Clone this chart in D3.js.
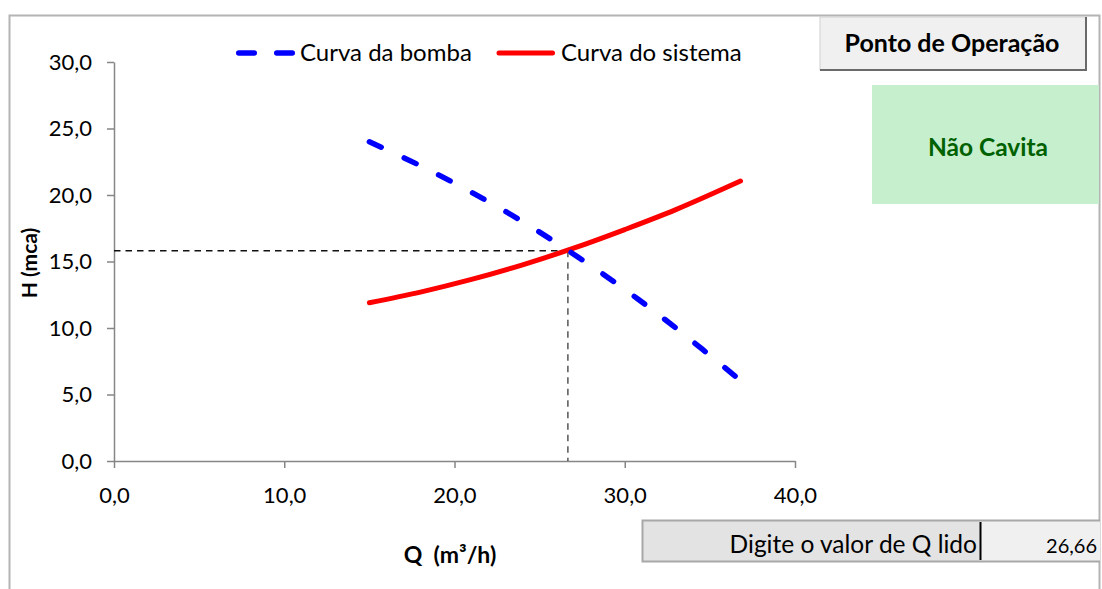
<!DOCTYPE html>
<html>
<head>
<meta charset="utf-8">
<script src="https://cdn.jsdelivr.net/npm/d3@7"></script>
<style>
  html, body { margin: 0; padding: 0; background: #fff; }
  svg { display: block; font-family: Lato, "Open Sans", sans-serif; }
</style>
</head>
<body>
<svg id="chart" width="1102" height="589"></svg>
<script>
// Pump curve (bomba) and system curve (sistema): flow Q (m³/h) vs head H (mca)
const pumpQ = [15, 18, 21, 24, 27, 30, 33, 36.66];
const pumpH = [24.0, 22.2, 20.2, 18.0, 15.55, 12.9, 10.0, 6.2];
const systemQ = [15, 18, 21, 24, 27, 30, 33, 36.8];
const systemH = [11.9, 12.7, 13.65, 14.75, 16.0, 17.4, 18.9, 21.05];

// Operating point (intersection of the two curves)
const opQ = 26.66;
const opH = 15.8;

const xTicks = [0, 10, 20, 30, 40];
const yTicks = [0, 5, 10, 15, 20, 25, 30];
const seriesNames = ["Curva da bomba", "Curva do sistema"];
const statusText = "Não Cavita";
const buttonText = "Ponto de Operação";
const inputLabel = "Digite o valor de Q lido";

const fmt = d => d.toFixed(1).replace(".", ",");
const fmt2 = d => d.toFixed(2).replace(".", ",");

const svg = d3.select("#chart");

// outer frame of the sheet area
svg.append("path")
  .attr("d", "M9.5,600 L9.5,15.5 L1099.5,15.5 L1099.5,600")
  .attr("fill", "none")
  .attr("stroke", "#b4b4b4")
  .attr("stroke-width", 2);

const x = d3.scaleLinear().domain([0, 40]).range([114, 795]);
const y = d3.scaleLinear().domain([0, 30]).range([461, 62]);

const axisColor = "#868686";

// y axis
const gy = svg.append("g")
  .attr("transform", `translate(${x(0)},0)`)
  .call(d3.axisLeft(y).tickValues(yTicks).tickFormat(fmt).tickSize(7).tickSizeOuter(0).tickPadding(15));
// x axis
const gx = svg.append("g")
  .attr("transform", `translate(0,${y(0)})`)
  .call(d3.axisBottom(x).tickValues(xTicks).tickFormat(fmt).tickSize(7).tickSizeOuter(0).tickPadding(19));

[gx, gy].forEach(g => {
  g.select(".domain").attr("stroke", axisColor).attr("stroke-width", 1.5);
  g.selectAll(".tick line").attr("stroke", axisColor).attr("stroke-width", 1.5);
  g.selectAll(".tick text")
    .attr("fill", "#000")
    .style("font-size", "22px")
    .style("font-family", "Lato, sans-serif");
});

// axis titles
svg.append("text")
  .attr("x", 450).attr("y", 563)
  .attr("text-anchor", "middle")
  .style("font-size", "23px").style("font-weight", "bold")
  .style("white-space", "pre")
  .attr("fill", "#000")
  .text("Q\u00a0\u00a0(m³/h)");
svg.append("text")
  .attr("transform", "translate(37,263) rotate(-90)")
  .attr("text-anchor", "middle")
  .style("font-size", "21px").style("font-weight", "bold")
  .attr("fill", "#000")
  .text("H (mca)");

// reference lines to the operating point
svg.append("line")
  .attr("x1", x(0)).attr("x2", x(opQ))
  .attr("y1", y(opH)).attr("y2", y(opH))
  .attr("stroke", "#111").attr("stroke-width", 1.5)
  .attr("stroke-dasharray", "6.5 5");
svg.append("line")
  .attr("x1", x(opQ)).attr("x2", x(opQ))
  .attr("y1", y(opH)).attr("y2", y(0))
  .attr("stroke", "#555").attr("stroke-width", 1.5)
  .attr("stroke-dasharray", "6.5 5");

const line = d3.line()
  .x(d => x(d[0]))
  .y(d => y(d[1]))
  .curve(d3.curveCatmullRom.alpha(0.5));

const pumpPts = pumpQ.map((q, i) => [q, pumpH[i]]);
const sysPts = systemQ.map((q, i) => [q, systemH[i]]);

svg.append("path")
  .datum(sysPts)
  .attr("d", line)
  .attr("fill", "none")
  .attr("stroke", "#ff0000")
  .attr("stroke-width", 5)
  .attr("stroke-linecap", "round");

svg.append("path")
  .datum(pumpPts)
  .attr("d", line)
  .attr("fill", "none")
  .attr("stroke", "#0000ff")
  .attr("stroke-width", 5.5)
  .attr("stroke-linecap", "round")
  .attr("stroke-dasharray", "13 25.4");

// legend
const legend = svg.append("g");
legend.append("line")
  .attr("x1", 238.75).attr("x2", 292.25).attr("y1", 53).attr("y2", 53)
  .attr("stroke", "#0000ff").attr("stroke-width", 5.5)
  .attr("stroke-linecap", "round").attr("stroke-dasharray", "15.5 22.5");
legend.append("text")
  .attr("x", 300).attr("y", 61)
  .style("font-size", "24px").attr("fill", "#000")
  .text(seriesNames[0]);
legend.append("line")
  .attr("x1", 499).attr("x2", 552.5).attr("y1", 53).attr("y2", 53)
  .attr("stroke", "#ff0000").attr("stroke-width", 5)
  .attr("stroke-linecap", "round");
legend.append("text")
  .attr("x", 561).attr("y", 61)
  .style("font-size", "24px").attr("fill", "#000")
  .text(seriesNames[1]);

// button "Ponto de Operação"
const btn = svg.append("g");
btn.append("rect")
  .attr("x", 820).attr("y", 17).attr("width", 266).attr("height", 53)
  .attr("fill", "#f0f0f0").attr("stroke", "#d0d0d0").attr("stroke-width", 1);
btn.append("path")
  .attr("d", "M820,70 L1086,70 L1086,17")
  .attr("fill", "none").attr("stroke", "#6a6a6a").attr("stroke-width", 2);
btn.append("text")
  .attr("x", 952).attr("y", 52)
  .attr("text-anchor", "middle")
  .style("font-size", "25px").style("font-weight", "bold")
  .attr("fill", "#000")
  .text(buttonText);

// status box
svg.append("rect")
  .attr("x", 872).attr("y", 85).attr("width", 227).attr("height", 119)
  .attr("fill", "#c6efce");
svg.append("text")
  .attr("x", 988).attr("y", 156)
  .attr("text-anchor", "middle")
  .style("font-size", "24.5px").style("font-weight", "bold")
  .attr("fill", "#006100")
  .text(statusText);

// input row
svg.append("rect")
  .attr("x", 643).attr("y", 521).attr("width", 337).attr("height", 40)
  .attr("fill", "#e3e3e3");
svg.append("rect")
  .attr("x", 980).attr("y", 521).attr("width", 120).attr("height", 40)
  .attr("fill", "#f0f0f0");
svg.append("path")
  .attr("d", "M1100,520.5 L642.5,520.5 L642.5,561.5 L1100,561.5")
  .attr("fill", "none").attr("stroke", "#a8a8a8").attr("stroke-width", 2);
svg.append("line")
  .attr("x1", 980.5).attr("x2", 980.5).attr("y1", 522).attr("y2", 560)
  .attr("stroke", "#000").attr("stroke-width", 2);
svg.append("text")
  .attr("x", 977).attr("y", 553)
  .attr("text-anchor", "end")
  .style("font-size", "24.5px").attr("fill", "#000")
  .text(inputLabel);
svg.append("text")
  .attr("x", 1097).attr("y", 553)
  .attr("text-anchor", "end")
  .style("font-size", "20px").attr("fill", "#000")
  .text(fmt2(opQ));
</script>
</body>
</html>
